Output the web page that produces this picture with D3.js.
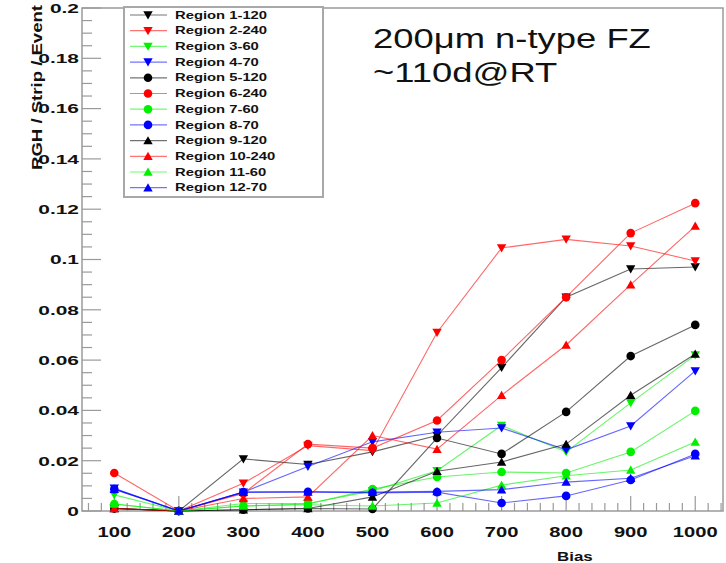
<!DOCTYPE html>
<html><head><meta charset="utf-8">
<script src="https://cdn.jsdelivr.net/npm/d3@7"></script>
<style>html,body{margin:0;padding:0;background:#fff;}svg{display:block;font-family:"Liberation Sans",Arial,sans-serif;}</style>
</head><body>
<svg id="chart" width="726" height="563"></svg>
<script>
// ---- data ----
const biasValues = [100, 200, 300, 400, 500, 600, 700, 800, 900, 1000];
const seriesNames = ["Region 1-120","Region 2-240","Region 3-60","Region 4-70","Region 5-120","Region 6-240","Region 7-60","Region 8-70","Region 9-120","Region 10-240","Region 11-60","Region 12-70"];
const region1  = [0.001, 0, 0.0207, 0.0185, 0.0235, 0.0300, 0.057, 0.085, 0.0962, 0.097];
const region2  = [0.001, 0, 0.011, 0.026, 0.024, 0.071, 0.1046, 0.108, 0.1054, 0.0994];
const region3  = [0.0064, 0, 0.003, 0.003, 0.008, 0.016, 0.034, 0.0235, 0.043, 0.062];
const region4  = [0.009, 0, 0.0075, 0.0177, 0.0275, 0.0313, 0.033, 0.0243, 0.0338, 0.0557];
const region5  = [0.001, 0, 0.0005, 0.001, 0.0008, 0.029, 0.0227, 0.0394, 0.0616, 0.074];
const region6  = [0.0151, 0, 0.007, 0.0266, 0.025, 0.036, 0.060, 0.085, 0.1105, 0.1224];
const region7  = [0.0028, 0, 0.002, 0.0028, 0.0087, 0.0135, 0.0155, 0.0151, 0.0235, 0.0398];
const region8  = [0.0087, 0, 0.0075, 0.0076, 0.0072, 0.0075, 0.0032, 0.006, 0.0123, 0.0227];
const region9  = [0.001, 0, 0.0005, 0.001, 0.0056, 0.0158, 0.0195, 0.0266, 0.046, 0.0624];
const region10 = [0.001, 0, 0.005, 0.0056, 0.030, 0.0246, 0.046, 0.066, 0.090, 0.1133];
const region11 = [0.0028, 0, 0.002, 0.0025, 0.002, 0.0032, 0.0103, 0.014, 0.0163, 0.0274];
const region12 = [0.0087, 0, 0.0075, 0.0076, 0.0075, 0.0078, 0.0085, 0.0115, 0.013, 0.022];
const yTickValues = [0, 0.02, 0.04, 0.06, 0.08, 0.1, 0.12, 0.14, 0.16, 0.18, 0.2];
const yTickLabels = ["0","0.02","0.04","0.06","0.08","0.1","0.12","0.14","0.16","0.18","0.2"];
const xTickLabels = ["100","200","300","400","500","600","700","800","900","1000"];
const yTitle = "RGH / Strip / Event";
const xTitle = "Bias";
const noteLines = ["200\u03bcm n-type FZ", "~110d@RT"];

// ---- styles ----
const allSeries = [region1,region2,region3,region4,region5,region6,region7,region8,region9,region10,region11,region12];
const colors = ["#000000","#ff0000","#00f000","#0000ff"];
const shapes = ["down","circle","up"];

const svg = d3.select("#chart");
const x = d3.scaleLinear().domain([50, 1043]).range([82, 723]);
const y = d3.scaleLinear().domain([0, 0.2]).range([511, 8]);
const frameCol = "#9a9a9a";

// frame
svg.append("rect").attr("x", x(50)).attr("y", y(0.2)).attr("width", x(1043) - x(50)).attr("height", y(0) - y(0.2))
  .attr("fill", "none").attr("stroke", frameCol).attr("stroke-width", 1.5);

// y ticks
const yMinor = d3.range(0, 0.2001, 0.005);
svg.append("g").selectAll("line").data(yMinor).join("line")
  .attr("x1", x(50)).attr("x2", (d, i) => x(50) + (i % 4 === 0 ? 19 : 10))
  .attr("y1", d => y(d)).attr("y2", d => y(d)).attr("stroke", frameCol).attr("stroke-width", 1.2);
// x ticks
const xMinor = d3.range(60, 1041, 20);
svg.append("g").selectAll("line").data(xMinor).join("line")
  .attr("x1", d => x(d)).attr("x2", d => x(d))
  .attr("y1", y(0)).attr("y2", d => y(0) - (d % 100 === 0 ? 15 : 8))
  .attr("stroke", frameCol).attr("stroke-width", 1.2);

function stretchedText(g, tx, ty, str, size, weight, sx, anchor) {
  return g.append("text").attr("transform", `translate(${tx},${ty}) scale(${sx},1)`)
    .attr("text-anchor", anchor).attr("font-size", size).attr("font-weight", weight)
    .attr("fill", "#111").text(str);
}
// y tick labels
yTickValues.forEach((v, i) => {
  stretchedText(svg, 79, y(v) + 4.8, yTickLabels[i], 13.5, "bold", 1.55, "end");
});
// x tick labels
biasValues.forEach((v, i) => {
  stretchedText(svg, x(v), 537, xTickLabels[i], 15.5, "bold", 1.3, "middle");
});
// axis titles
svg.append("text").attr("transform", "translate(42,170) rotate(-90)")
  .attr("font-size", 14).attr("font-weight", "bold").attr("fill", "#111")
  .attr("textLength", 165).attr("lengthAdjust", "spacingAndGlyphs").text(yTitle);
stretchedText(svg, 557, 561, xTitle, 13, "bold", 1.3, "start");

// markers
function drawMarker(g, shape, cx, cy, col) {
  if (shape === "circle") {
    g.append("circle").attr("cx", cx).attr("cy", cy).attr("r", 4.3).attr("fill", col);
  } else {
    const s = 4.7;
    const pts = shape === "up"
      ? [[cx - s, cy + s * 0.8], [cx + s, cy + s * 0.8], [cx, cy - s * 0.95]]
      : [[cx - s, cy - s * 0.8], [cx + s, cy - s * 0.8], [cx, cy + s * 0.95]];
    g.append("polygon").attr("points", pts.map(p => p.join(",")).join(" ")).attr("fill", col);
  }
}

const line = d3.line().x((d, i) => x(biasValues[i])).y(d => y(d));
const plot = svg.append("g");
allSeries.forEach((vals, k) => {
  const col = colors[k % 4];
  const shape = shapes[Math.floor(k / 4)];
  const g = plot.append("g");
  g.append("path").attr("d", line(vals)).attr("fill", "none").attr("stroke", col)
    .attr("stroke-width", 1.1).attr("stroke-opacity", 0.6);
  vals.forEach((v, i) => drawMarker(g, shape, x(biasValues[i]), y(v), col));
});

// legend
const leg = svg.append("g");
leg.append("rect").attr("x", 124).attr("y", 7).attr("width", 199).attr("height", 190)
  .attr("fill", "#fff").attr("stroke", "#a8a8a8").attr("stroke-width", 2);
seriesNames.forEach((name, k) => {
  const ly = 15 + k * 15.7;
  const col = colors[k % 4];
  leg.append("line").attr("x1", 130).attr("x2", 167).attr("y1", ly).attr("y2", ly)
    .attr("stroke", col).attr("stroke-width", 1.2).attr("stroke-opacity", 0.55);
  drawMarker(leg, shapes[Math.floor(k / 4)], 148, ly, col);
  stretchedText(leg, 175, ly + 3.6, name, 10, "bold", 1.48, "start");
});

// annotation
stretchedText(svg, 373, 48, noteLines[0], 28, "normal", 1.3, "start");
stretchedText(svg, 373, 82, noteLines[1], 28, "normal", 1.3, "start");
</script>
</body></html>
